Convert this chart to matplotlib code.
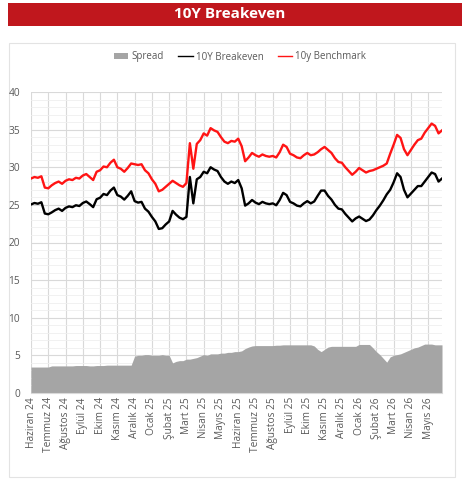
import numpy as np
import matplotlib.pyplot as plt
from matplotlib.patches import Rectangle, Patch
from matplotlib.lines import Line2D

plt.rcParams['font.family'] = ['Open Sans', 'DejaVu Sans']

# ay etiketleri
aylar = ['Haziran 24', 'Temmuz 24', 'Ağustos 24', 'Eylül 24', 'Ekim 24', 'Kasım 24',
         'Aralık 24', 'Ocak 25', 'Şubat 25', 'Mart 25', 'Nisan 25', 'Mayıs 25',
         'Haziran 25', 'Temmuz 25', 'Ağustos 25', 'Eylül 25', 'Ekim 25', 'Kasım 25',
         'Aralık 25', 'Ocak 26', 'Şubat 26', 'Mart 26', 'Nisan 26', 'Mayıs 26']

# 10y gösterge faizi (%), ayda 5 gözlem
benchmark = [28.5, 28.7, 28.6, 28.8, 27.3, 27.2, 27.6, 27.9, 28.1, 27.8,
             28.2, 28.4, 28.3, 28.6, 28.5, 28.9, 29.1, 28.7, 28.3, 29.4,
             29.6, 30.1, 30.0, 30.6, 31.0, 30.0, 29.8, 29.4, 29.9, 30.5,
             30.4, 30.3, 30.4, 29.6, 29.2, 28.4, 27.8, 26.8, 27.0, 27.4,
             27.8, 28.2, 27.9, 27.6, 27.4, 27.9, 33.2, 29.8, 33.1, 33.6,
             34.5, 34.2, 35.2, 34.9, 34.7, 34.0, 33.4, 33.2, 33.5, 33.4,
             33.8, 32.8, 30.8, 31.3, 31.9, 31.6, 31.4, 31.7, 31.5, 31.4,
             31.5, 31.3, 32.0, 33.0, 32.7, 31.8, 31.6, 31.3, 31.2, 31.6,
             31.9, 31.6, 31.7, 32.0, 32.4, 32.7, 32.3, 31.9, 31.2, 30.7,
             30.6, 30.0, 29.5, 29.0, 29.4, 29.9, 29.6, 29.3, 29.5, 29.6,
             29.8, 30.0, 30.2, 30.5, 31.8, 33.0, 34.3, 33.9, 32.4, 31.6,
             32.3, 33.0, 33.6, 33.8, 34.6, 35.2, 35.8, 35.5, 34.5, 34.9]

# gösterge - breakeven farkı (puan)
spread = [3.45, 3.45, 3.45, 3.45, 3.45, 3.45, 3.6, 3.6, 3.6, 3.6,
          3.6, 3.6, 3.6, 3.65, 3.65, 3.65, 3.65, 3.6, 3.6, 3.65,
          3.65, 3.65, 3.7, 3.7, 3.7, 3.7, 3.7, 3.7, 3.7, 3.7,
          4.9, 5.0, 5.0, 5.1, 5.1, 5.0, 5.0, 5.0, 5.1, 5.0,
          5.0, 4.0, 4.2, 4.3, 4.3, 4.5, 4.5, 4.6, 4.7, 4.9,
          5.1, 5.0, 5.2, 5.2, 5.2, 5.3, 5.3, 5.4, 5.4, 5.5,
          5.5, 5.6, 5.9, 6.1, 6.25, 6.3, 6.3, 6.3, 6.3, 6.3,
          6.3, 6.35, 6.35, 6.4, 6.4, 6.4, 6.4, 6.4, 6.4, 6.4,
          6.4, 6.4, 6.25, 5.8, 5.5, 5.8, 6.1, 6.2, 6.2, 6.2,
          6.2, 6.2, 6.2, 6.2, 6.2, 6.45, 6.45, 6.45, 6.45, 6.0,
          5.5, 5.1, 4.6, 4.1, 4.8, 5.0, 5.1, 5.2, 5.4, 5.6,
          5.8, 6.0, 6.1, 6.3, 6.5, 6.5, 6.5, 6.4, 6.4, 6.4]

benchmark = np.array(benchmark)
spread = np.array(spread)
breakeven = benchmark - spread
x = np.arange(len(benchmark)) / 5.0

fig = plt.figure(figsize=(4.62, 4.8), dpi=100)

# başlık bandı
fig.patches.append(Rectangle((8 / 462, 1 - 26 / 480), 1, 23 / 480, transform=fig.transFigure,
                             facecolor='#c0171d', edgecolor='none', zorder=-5))
fig.text(230 / 462, 1 - 14.5 / 480, '10Y Breakeven', color='white', fontsize=11,
         fontweight='bold', ha='center', va='center')

# grafik çerçevesi
fig.patches.append(Rectangle((9 / 462, 1 - 477 / 480), 446 / 462, 434 / 480,
                             transform=fig.transFigure, facecolor='white',
                             edgecolor='#e3e3e3', linewidth=0.8, zorder=-5))

ax = fig.add_axes([31 / 462, 87 / 480, 411 / 462, 301 / 480])
ax.set_facecolor('none')
ax.set_zorder(2)

ax.fill_between(x, 0, spread, color='#a5a5a5', linewidth=0, zorder=2)
ax.plot(x, breakeven, color='black', linewidth=1.7, zorder=3)
ax.plot(x, benchmark, color='#ff1414', linewidth=1.7, zorder=4)

ax.set_xlim(0, 23.8)
ax.set_ylim(0, 40)
ax.set_yticks(np.arange(0, 41, 5))
ax.set_yticks(np.arange(0, 41, 1), minor=True)
ax.set_xticks(np.arange(len(aylar)))
ax.set_xticklabels(aylar, rotation=90)

ax.grid(which='major', axis='y', color='#d9d9d9', linewidth=0.8)
ax.grid(which='minor', axis='y', color='#efefef', linewidth=0.6)
ax.grid(which='major', axis='x', color='#d9d9d9', linewidth=0.8)
ax.set_axisbelow(True)

for s in ['top', 'right', 'left']:
    ax.spines[s].set_visible(False)
ax.spines['bottom'].set_color('#d9d9d9')
ax.tick_params(which='both', length=0, labelsize=7.3, labelcolor='#595959')
ax.tick_params(axis='y', pad=8)
ax.tick_params(axis='x', pad=3)

handles = [Patch(facecolor='#a5a5a5', edgecolor='none', label='Spread'),
           Line2D([], [], color='black', linewidth=1, label='10Y Breakeven'),
           Line2D([], [], color='#ff1414', linewidth=1, label='10y Benchmark')]
fig.legend(handles=handles, loc='center', bbox_to_anchor=(240 / 462, 1 - 57 / 480), ncol=3,
           frameon=False, fontsize=7, labelcolor='#595959', handlelength=1.5,
           handletextpad=0.3, columnspacing=1.5, handleheight=0.6)

fig.savefig('out.png', dpi=100)
